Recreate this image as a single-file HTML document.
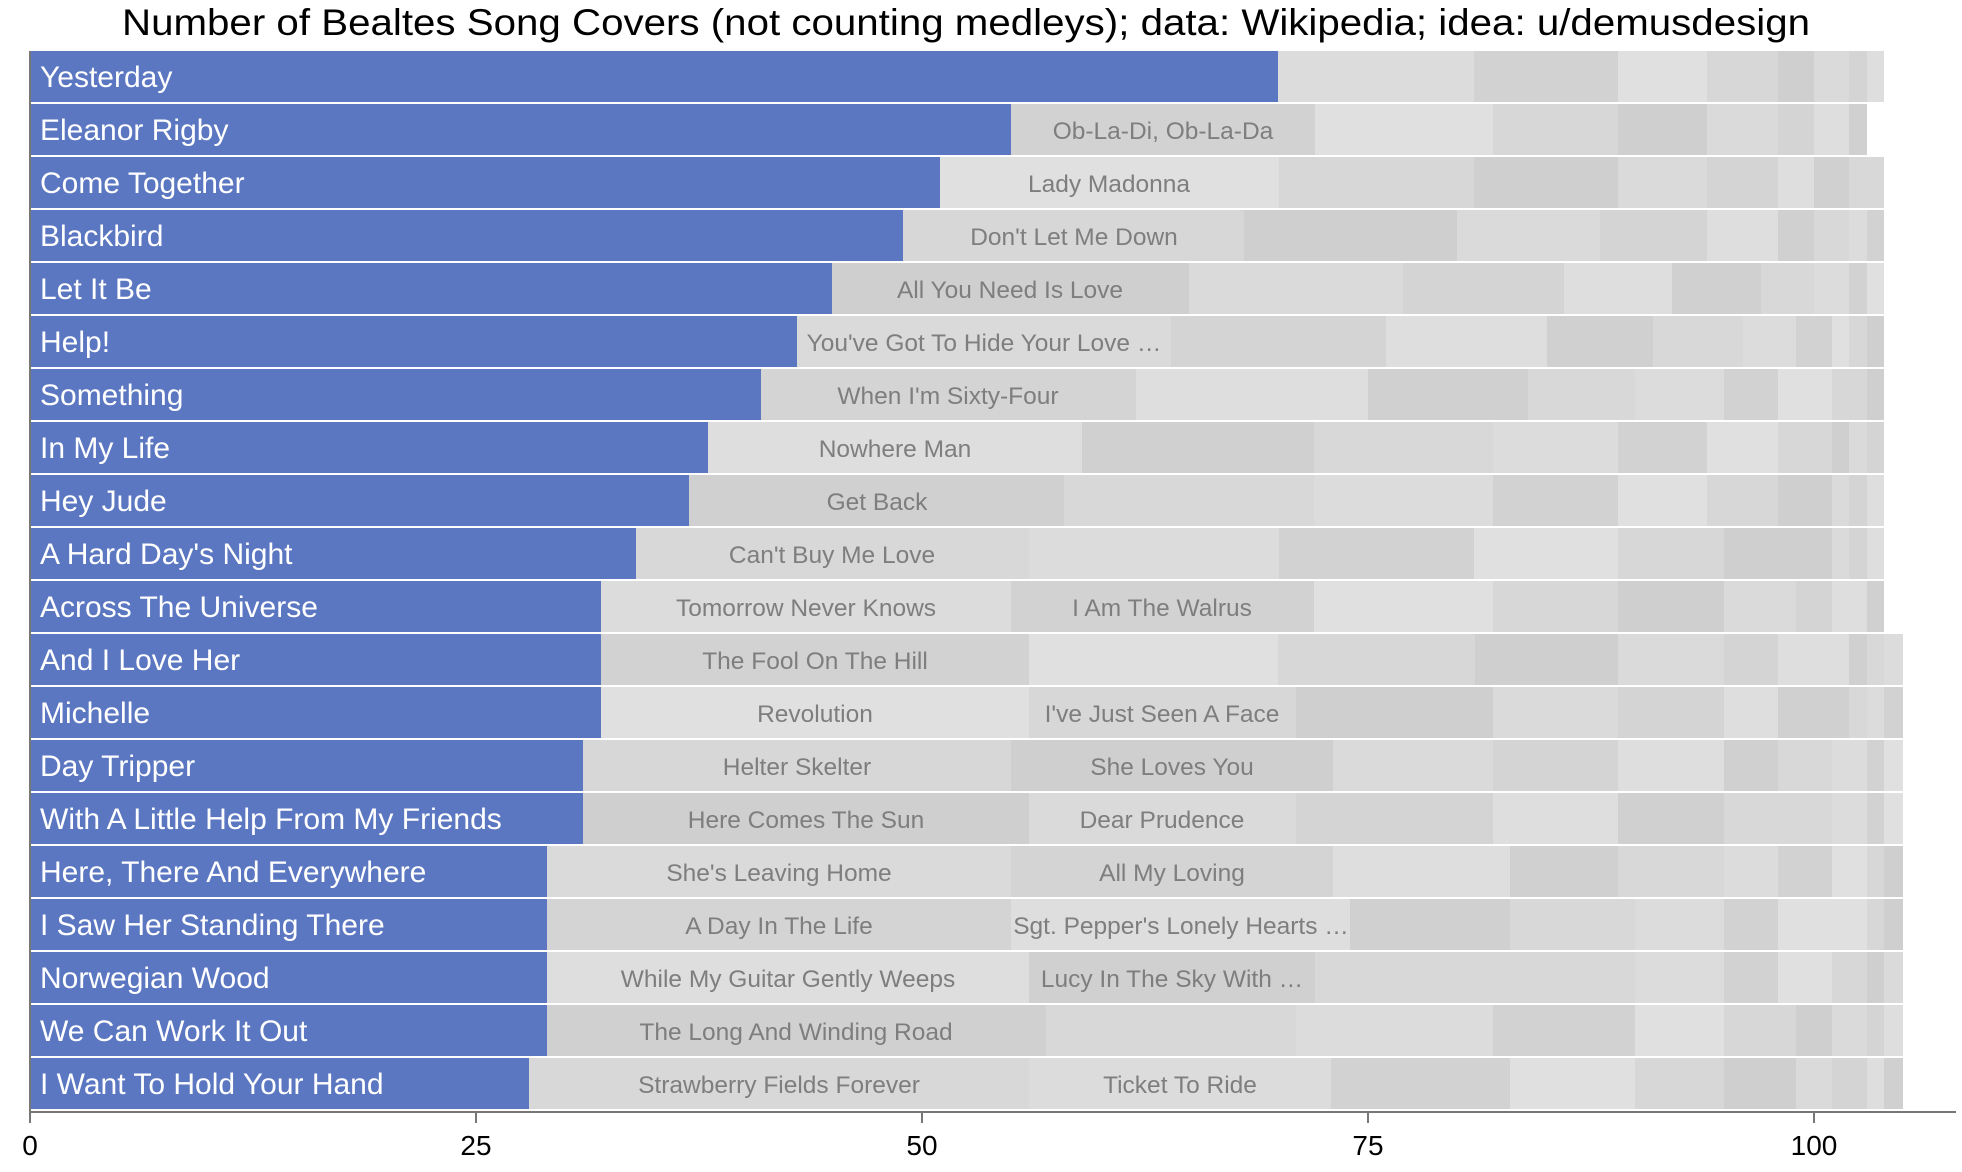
<!DOCTYPE html>
<html><head><meta charset="utf-8"><style>
html,body{margin:0;padding:0;background:#fff;}
svg{display:block;font-family:"Liberation Sans",Arial,sans-serif;}
.w{fill:#fff;font-size:30px;}
.g{fill:#7e7e7e;font-size:24.5px;text-anchor:middle;}
.t{fill:#000;font-size:28px;text-anchor:middle;}
</style></head><body>
<svg id="s" width="1962" height="1172" viewBox="0 0 1962 1172" xmlns="http://www.w3.org/2000/svg">
<g id="bars"></g>
<text x="966" y="35" style="font-size:37px" text-anchor="middle" textLength="1688" lengthAdjust="spacingAndGlyphs">Number of Bealtes Song Covers (not counting medleys); data: Wikipedia; idea: u/demusdesign</text>
<g id="labels">
<text class="w" x="40" y="87">Yesterday</text>
<text class="w" x="40" y="140">Eleanor Rigby</text>
<text class="w" x="40" y="193">Come Together</text>
<text class="w" x="40" y="246">Blackbird</text>
<text class="w" x="40" y="299">Let It Be</text>
<text class="w" x="40" y="352">Help!</text>
<text class="w" x="40" y="405">Something</text>
<text class="w" x="40" y="458">In My Life</text>
<text class="w" x="40" y="511">Hey Jude</text>
<text class="w" x="40" y="564">A Hard Day's Night</text>
<text class="w" x="40" y="617">Across The Universe</text>
<text class="w" x="40" y="670">And I Love Her</text>
<text class="w" x="40" y="723">Michelle</text>
<text class="w" x="40" y="776">Day Tripper</text>
<text class="w" x="40" y="829">With A Little Help From My Friends</text>
<text class="w" x="40" y="882">Here, There And Everywhere</text>
<text class="w" x="40" y="935">I Saw Her Standing There</text>
<text class="w" x="40" y="988">Norwegian Wood</text>
<text class="w" x="40" y="1041">We Can Work It Out</text>
<text class="w" x="40" y="1094">I Want To Hold Your Hand</text>

<text class="g" x="1163" y="139">Ob-La-Di, Ob-La-Da</text>
<text class="g" x="1109" y="192">Lady Madonna</text>
<text class="g" x="1074" y="245">Don't Let Me Down</text>
<text class="g" x="1010" y="298">All You Need Is Love</text>
<text class="g" x="984" y="351">You've Got To Hide Your Love …</text>
<text class="g" x="948" y="404">When I'm Sixty-Four</text>
<text class="g" x="895" y="457">Nowhere Man</text>
<text class="g" x="877" y="510">Get Back</text>
<text class="g" x="832" y="563">Can't Buy Me Love</text>
<text class="g" x="806" y="616">Tomorrow Never Knows</text>
<text class="g" x="1162" y="616">I Am The Walrus</text>
<text class="g" x="815" y="669">The Fool On The Hill</text>
<text class="g" x="815" y="722">Revolution</text>
<text class="g" x="1162" y="722">I've Just Seen A Face</text>
<text class="g" x="797" y="775">Helter Skelter</text>
<text class="g" x="1172" y="775">She Loves You</text>
<text class="g" x="806" y="828">Here Comes The Sun</text>
<text class="g" x="1162" y="828">Dear Prudence</text>
<text class="g" x="779" y="881">She's Leaving Home</text>
<text class="g" x="1172" y="881">All My Loving</text>
<text class="g" x="779" y="934">A Day In The Life</text>
<text class="g" x="1181" y="934">Sgt. Pepper's Lonely Hearts …</text>
<text class="g" x="788" y="987">While My Guitar Gently Weeps</text>
<text class="g" x="1172" y="987">Lucy In The Sky With …</text>
<text class="g" x="796" y="1040">The Long And Winding Road</text>
<text class="g" x="779" y="1093">Strawberry Fields Forever</text>
<text class="g" x="1180" y="1093">Ticket To Ride</text>
</g>
<line x1="30" y1="51" x2="30" y2="1112" stroke="#777" stroke-width="2"/>
<line x1="29" y1="1112" x2="1956" y2="1112" stroke="#777" stroke-width="2"/>
<g stroke="#777" stroke-width="2">
<line x1="30" y1="1112" x2="30" y2="1123"/>
<line x1="476" y1="1112" x2="476" y2="1123"/>
<line x1="922" y1="1112" x2="922" y2="1123"/>
<line x1="1368" y1="1112" x2="1368" y2="1123"/>
<line x1="1814" y1="1112" x2="1814" y2="1123"/>
</g>
<text class="t" x="30" y="1155">0</text>
<text class="t" x="476" y="1155">25</text>
<text class="t" x="922" y="1155">50</text>
<text class="t" x="1368" y="1155">75</text>
<text class="t" x="1814" y="1155">100</text>
</svg>
<script>
var rows=[
[1021,1178,1293,1364,1421,1450,1478,1492,1506],
[808,1051,1193,1293,1364,1421,1450,1478,1492],
[751,1022,1178,1293,1364,1421,1450,1478,1506],
[722,994,1164,1279,1364,1421,1450,1478,1492,1506],
[665,950,1121,1250,1336,1407,1450,1478,1492,1506],
[637,936,1108,1236,1321,1393,1435,1464,1478,1492,1506],
[608,908,1093,1221,1307,1378,1421,1464,1492,1506],
[566,865,1050,1193,1293,1364,1421,1464,1478,1492,1506],
[551,850,1050,1193,1293,1364,1421,1464,1478,1492,1506],
[508,822,1022,1178,1293,1378,1464,1478,1492,1506],
[480,808,1050,1193,1293,1378,1435,1464,1492,1506],
[480,822,1021,1179,1293,1378,1421,1478,1492,1506,1521],
[480,822,1036,1193,1293,1378,1421,1478,1492,1506,1521],
[466,808,1065,1193,1293,1378,1421,1464,1492,1506,1521],
[466,822,1036,1193,1293,1378,1464,1492,1506,1521],
[437,808,1065,1207,1293,1378,1421,1464,1492,1506,1521],
[437,808,1079,1207,1307,1378,1421,1492,1506,1521],
[437,822,1051,1307,1378,1421,1464,1492,1506,1521],
[437,836,1036,1193,1307,1378,1435,1464,1492,1506,1521],
[423,822,1064,1207,1307,1378,1435,1464,1492,1506,1521]];
var cols=['#dcdcdc','#d2d2d2','#e0e0e0','#d7d7d7','#cfcfcf','#dadada','#d4d4d4','#dedede','#d0d0d0','#d8d8d8'];
var g=document.getElementById('bars'),ns='http://www.w3.org/2000/svg',k=1.2513;
rows.forEach(function(r,i){
 var y=51+i*53,prev=24;
 r.forEach(function(b,j){
  var x1=Math.round(prev*k),x2=Math.round(b*k);
  if(j==0)x1=31;
  var e=document.createElementNS(ns,'rect');
  e.setAttribute('x',x1);e.setAttribute('y',y);e.setAttribute('width',x2-x1);e.setAttribute('height',51);
  e.setAttribute('fill',j==0?'#5b77c1':cols[(j-1+i)%cols.length]);
  g.appendChild(e);prev=b;
 });
});
</script>
</body></html>
